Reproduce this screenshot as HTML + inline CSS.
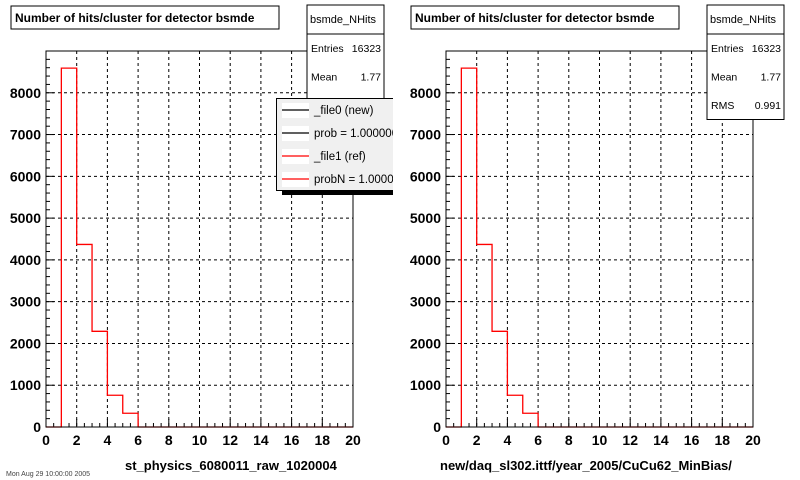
<!DOCTYPE html>
<html><head><meta charset="utf-8"><style>
body{margin:0;background:#fff;width:800px;height:480px;overflow:hidden}
svg{display:block;font-family:"Liberation Sans",Arial,sans-serif}
</style></head><body>
<svg id="c" width="800" height="480" xmlns="http://www.w3.org/2000/svg"></svg>
<script>
const binEdges = [1,2,3,4,5,6];
const counts = [8590,4370,2290,760,330];
const xTicks = [0,2,4,6,8,10,12,14,16,18,20];
const yTicks = [0,1000,2000,3000,4000,5000,6000,7000,8000];
const xMax = 20, yMax = 9000;
const NS="http://www.w3.org/2000/svg";
const svg=document.getElementById('c');
function mk(t,a,p){const e=document.createElementNS(NS,t);for(const k in a)e.setAttribute(k,a[k]);(p||svg).appendChild(e);return e;}
const defs=mk('defs',{});
const cp=mk('clipPath',{id:'lclip'},defs);
mk('rect',{x:0,y:0,width:393,height:480},cp);
function panel(x0,x1,title,xlabel,xlx,name){
  const y0=51,y1=427;
  const g=mk('g',{});
  
  
  const X=v=>x0+(x1-x0)*v/xMax, Y=v=>y1-(y1-y0)*v/yMax;
  xTicks.forEach(t=>{if(t>0&&t<xMax){const l=mk('line',{x1:X(t),x2:X(t),y1:y0,y2:y1,stroke:'#000','stroke-dasharray':'3,3','stroke-width':1},g);}});
  yTicks.forEach(t=>{if(t>0){const l=mk('line',{x1:x0,x2:x1,y1:Y(t),y2:Y(t),stroke:'#000','stroke-dasharray':'3,3','stroke-width':1},g);}});
  for(let v=0;v<=xMax;v+=0.5){const len=(v%2===0)?8:4;mk('line',{x1:X(v),x2:X(v),y1:y1,y2:y1-len,stroke:'#000'},g);}
  for(let v=0;v<=yMax;v+=200){const len=(v%1000===0)?8:4;mk('line',{x1:x0,x2:x0+len,y1:Y(v),y2:Y(v),stroke:'#000'},g);}
  let d=`M${X(0)},${Y(0)} L${X(binEdges[0])},${Y(0)}`;
  counts.forEach((c,i)=>{d+=` L${X(binEdges[i])},${Y(c)} L${X(binEdges[i+1])},${Y(c)}`;});
  d+=` L${X(binEdges[binEdges.length-1])},${Y(0)} L${X(xMax)},${Y(0)}`;
  const h=mk('path',{d:d,fill:'none',stroke:'#f00','stroke-width':1.3},g);
  
  const f=mk('rect',{x:x0,y:y0,width:x1-x0,height:y1-y0,fill:'none',stroke:'#000'},g);
  
  xTicks.forEach(t=>{const e=mk('text',{x:X(t),y:445,'text-anchor':'middle','font-size':14,'font-weight':'bold'},g);e.textContent=t;});
  yTicks.forEach(t=>{const e=mk('text',{x:x0-5,y:Y(t)+5,'text-anchor':'end','font-size':14,'font-weight':'bold'},g);e.textContent=t;});
  const xl=mk('text',{x:xlx,y:470,'font-size':13,'font-weight':'bold'},g);xl.textContent=xlabel;
  
  const tb=mk('rect',{x:x0-35,y:6,width:268,height:23,fill:'#fff',stroke:'#000'},g);
  
  const tt=mk('text',{x:x0-31,y:22,'font-size':12,'font-weight':'bold'},g);tt.textContent=title;
  
  return g;
}
function stats(x,rows,name){
  const w=77,top=5,bottom=top+29+rows.length*28.5;
  const r=mk('rect',{x:x,y:top,width:w,height:bottom-top,fill:'#fff',stroke:'#000'});
  
  mk('line',{x1:x,x2:x+w,y1:top+29,y2:top+29,stroke:'#000'});
  const t=mk('text',{x:x+3,y:top+18,'font-size':11});t.textContent='bsmde_NHits';
  
  rows.forEach((rw,i)=>{const yy=top+47+i*28.5;
    const a=mk('text',{x:x+4,y:yy,'font-size':10.5});a.textContent=rw[0];
    
    const b=mk('text',{x:x+w-3,y:yy,'font-size':10.5,'text-anchor':'end'});b.textContent=rw[1];
    });
}
panel(46,353,'Number of hits/cluster for detector bsmde','st_physics_6080011_raw_1020004',125,'left-panel');
panel(446,753,'Number of hits/cluster for detector bsmde','new/daq_sl302.ittf/year_2005/CuCu62_MinBias/',440,'right-panel');
stats(307,[['Entries','16323'],['Mean','1.77'],['RMS','0.991']],'stats-box-left');
stats(707,[['Entries','16323'],['Mean','1.77'],['RMS','0.991']],'stats-box-right');
const lg=mk('g',{'clip-path':'url(#lclip)'});


mk('rect',{x:282,y:100,width:120,height:95,fill:'#000'},lg);
mk('rect',{x:276.5,y:98.5,width:125,height:92,fill:'#f0f0f0',stroke:'#000'},lg);
const entries=[['_file0 (new)','#000'],['prob = 1.000000','#000'],['_file1 (ref)','#f00'],['probN = 1.000000','#f00']];
entries.forEach((e,i)=>{const yy=110+i*23;
  mk('rect',{x:282,y:yy-7,width:27,height:15,fill:'#fff'},lg);
  const l=mk('line',{x1:282,x2:309,y1:yy,y2:yy,stroke:e[1],'stroke-width':1.3},lg);
  
  const t=mk('text',{x:314,y:yy+4,'font-size':11.5},lg);t.textContent=e[0];
  });
const ft=mk('text',{x:6,y:476,'font-size':7,fill:'#444'});ft.textContent='Mon Aug 29 10:00:00 2005';

</script>
</body></html>
